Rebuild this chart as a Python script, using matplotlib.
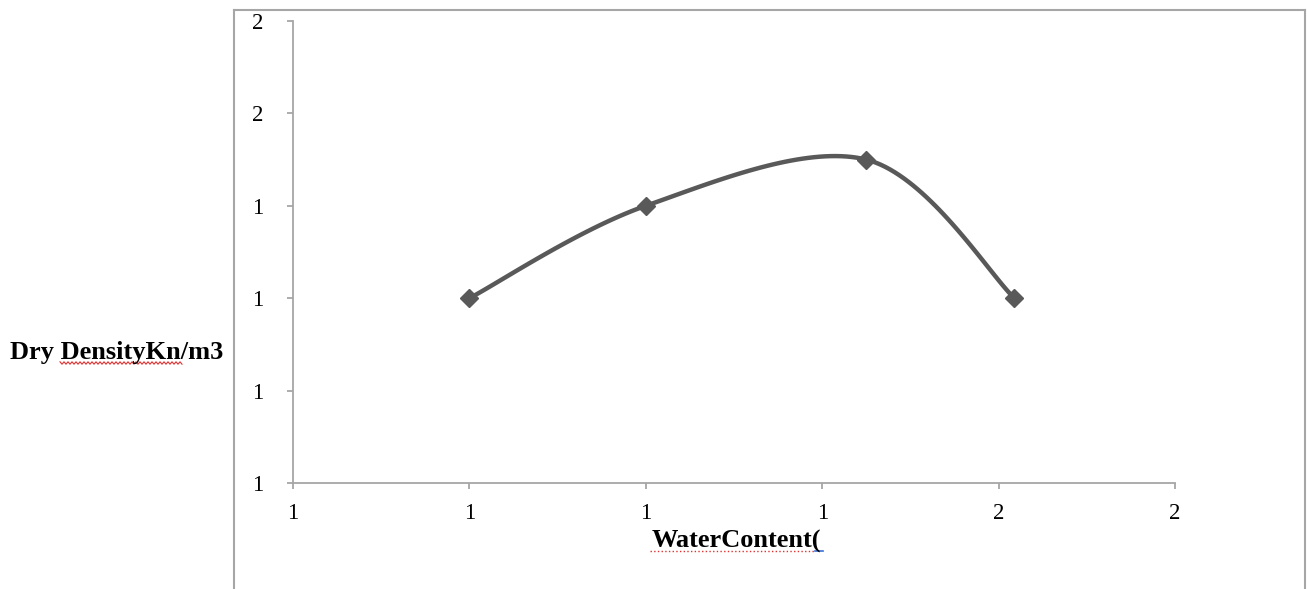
import matplotlib.pyplot as plt
import numpy as np
from matplotlib.lines import Line2D

# values (axis labels in the source are rounded to whole numbers)
water_content = [1.15, 1.30, 1.4875, 1.6135]
dry_density = [1.30, 1.45, 1.525, 1.30]
x_ticks = [1.00, 1.15, 1.30, 1.45, 1.60, 1.75]
y_ticks = [1.00, 1.15, 1.30, 1.45, 1.60, 1.75]

plt.rcParams['font.family'] = ['Liberation Serif', 'DejaVu Serif']

fig = plt.figure(figsize=(13.07, 5.89), dpi=100)
ax = fig.add_axes([0.2242, 0.180, 0.6748, 0.7843])

ax.set_xlim(x_ticks[0], x_ticks[-1])
ax.set_ylim(y_ticks[0], y_ticks[-1])
ax.set_xticks(x_ticks)
ax.set_yticks(y_ticks)
ax.set_xticklabels([f"{v:.0f}" for v in x_ticks])
ax.set_yticklabels([f"{v:.0f}" for v in y_ticks])

grey = '#a6a6a6'
for s in ['top', 'right']:
    ax.spines[s].set_visible(False)
for s in ['left', 'bottom']:
    ax.spines[s].set_color(grey)
    ax.spines[s].set_linewidth(1.3)
ax.tick_params(axis='x', direction='out', length=4.5, width=1.3, color=grey,
               pad=10, labelsize=16.5)
ax.tick_params(axis='y', direction='out', length=4.5, width=1.3, color=grey,
               pad=17, labelsize=16.5)

# Excel style smoothed line, computed in pixel space
fig.canvas.draw()
pts = ax.transData.transform(np.column_stack([water_content, dry_density]))
P = np.vstack([pts[0], pts, pts[-1]])
curve = []
t = np.linspace(0, 1, 40)[:, None]
for i in range(1, len(P) - 2):
    p0, p3 = P[i], P[i + 1]
    c1 = p0 + (P[i + 1] - P[i - 1]) / 6
    c2 = p3 - (P[i + 2] - P[i]) / 6
    seg = ((1 - t) ** 3) * p0 + 3 * ((1 - t) ** 2) * t * c1 + 3 * (1 - t) * t ** 2 * c2 + t ** 3 * p3
    curve.append(seg)
curve = ax.transData.inverted().transform(np.vstack(curve))

line_col = '#595959'
ax.plot(curve[:, 0], curve[:, 1], color=line_col, lw=3.2, solid_capstyle='round', clip_on=False)
ax.plot(water_content, dry_density, ls='none', marker='D', ms=9, color=line_col, clip_on=False)

# axis titles
fig.text(10 / 1307, 1 - 352 / 589, "Dry DensityKn/m3", ha='left', va='center',
         fontsize=19, fontweight='bold')
fig.text(736 / 1307, 1 - 541 / 589, "WaterContent(", ha='center', va='center',
         fontsize=19, fontweight='bold')

# chart outer border
W, H = 1307, 589
fig.add_artist(Line2D([234 / W, 234 / W], [0, 1 - 10 / H], color=grey, lw=1.5))
fig.add_artist(Line2D([234 / W, 1305 / W], [1 - 10 / H, 1 - 10 / H], color=grey, lw=1.5))
fig.add_artist(Line2D([1305 / W, 1305 / W], [1 - 10 / H, 0], color=grey, lw=1.5))

# spell-check underlines
zx = np.arange(60, 183, 2.0)
zy = 363 + np.where(np.arange(len(zx)) % 2 == 0, -1.2, 1.2)
fig.add_artist(Line2D(zx / W, 1 - zy / H, color='#e03030', lw=0.8))
fig.add_artist(Line2D([650 / W, 815 / W], [1 - 551 / H] * 2, color='#e03030', lw=1, ls=':'))
fig.add_artist(Line2D([815 / W, 823 / W], [1 - 551 / H] * 2, color='#3a6fd8', lw=1.2))

fig.savefig("out.png", dpi=100)
